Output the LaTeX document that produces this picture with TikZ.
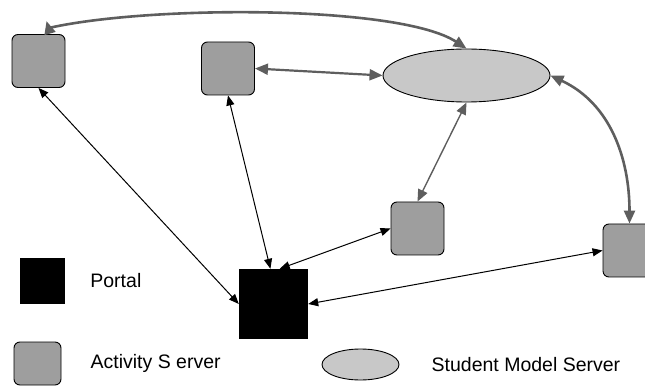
\documentclass[tikz,border=0pt]{standalone}
\usepackage{fontspec}
\setmainfont{Liberation Sans}
\usetikzlibrary{positioning,arrows.meta,shapes.geometric}
\definecolor{ServerGray}{RGB}{158,158,158}
\definecolor{ModelGray}{RGB}{200,200,200}
\definecolor{LinkGray}{RGB}{94,94,94}
\tikzset{
  blacklink/.style={{Triangle[length=10pt,width=8pt]}-{Triangle[length=10pt,width=8pt]},
    line width=1pt,draw=black},
  greylink/.style={{Triangle[length=13pt,width=11pt]}-{Triangle[length=13pt,width=11pt]},
    line width=2.6pt,draw=LinkGray},
  midlink/.style={{Triangle[length=13pt,width=11pt]}-{Triangle[length=13pt,width=11pt]},
    line width=2.2pt,draw=LinkGray},
  thinlink/.style={{Triangle[length=12pt,width=10pt]}-{Triangle[length=12pt,width=10pt]},
    line width=1.4pt,draw=LinkGray},
  actbox/.style={draw=black,fill=ServerGray,rounded corners=6pt,
    minimum width=53pt,minimum height=53pt,inner sep=0pt,line width=0.9pt},
  portalbox/.style={fill=black,minimum width=69pt,minimum height=70pt,inner sep=0pt},
  smsnode/.style={ellipse,draw=black,fill=ModelGray,
    minimum width=167pt,minimum height=53pt,inner sep=0pt,line width=0.9pt},
  legtext/.style={font=\fontsize{19.5}{22}\selectfont,inner sep=0pt}
}

\begin{document}
\begin{tikzpicture}[x=1pt,y=-1pt]
  \useasboundingbox (0,0) rectangle (645,387);
  \node[actbox] (act1) at (38.5,61) {};
  \node[actbox] (act2) at (228,68.5) {};
  \node[smsnode] (sms) at (466.5,75.5) {};
  \node[actbox] (act3) at (417.5,228.5) {};
  \node[actbox] (act4) at (629.5,250.5) {};
  \node[portalbox] (portal) at (273.5,304) {};
  \node[portalbox,minimum width=45pt,minimum height=46pt] (legportal) at (42.5,281) {};
  \node[legtext,right=25pt of legportal] (portaltxt) {Portal};
  \node[actbox,minimum width=47pt,minimum height=43pt] (legact) at (37.5,363.5) {};
  \node[legtext,right=29pt of legact] (acttxt) {Activity S erver};
  \node[smsnode,minimum width=77pt,minimum height=31pt] (legsms) at (360.5,364.5) {};
  \node[legtext,right=32pt of legsms] (smstxt) {Student Model Server};
  \draw[blacklink] (act1.south) -- (portal.west);
  \draw[blacklink] (act2.south) -- (portal.95);
  \draw[blacklink] (portal.80) -- (act3.west);
  \draw[blacklink] (portal.east) -- (act4.west);
  \draw[midlink] (act2.east) -- (sms.west);
  \draw[thinlink] (sms.south) -- (act3.north);
  \draw[greylink] (sms.east) to[out=-25,in=90] (act4.north);
  \draw[greylink] (sms.north) .. controls (400,5) and (150,5) .. ([shift={(10,-6)}]act1.north)
    -- ([shift={(8,-13)}]act1.north);
\end{tikzpicture}
\end{document}
